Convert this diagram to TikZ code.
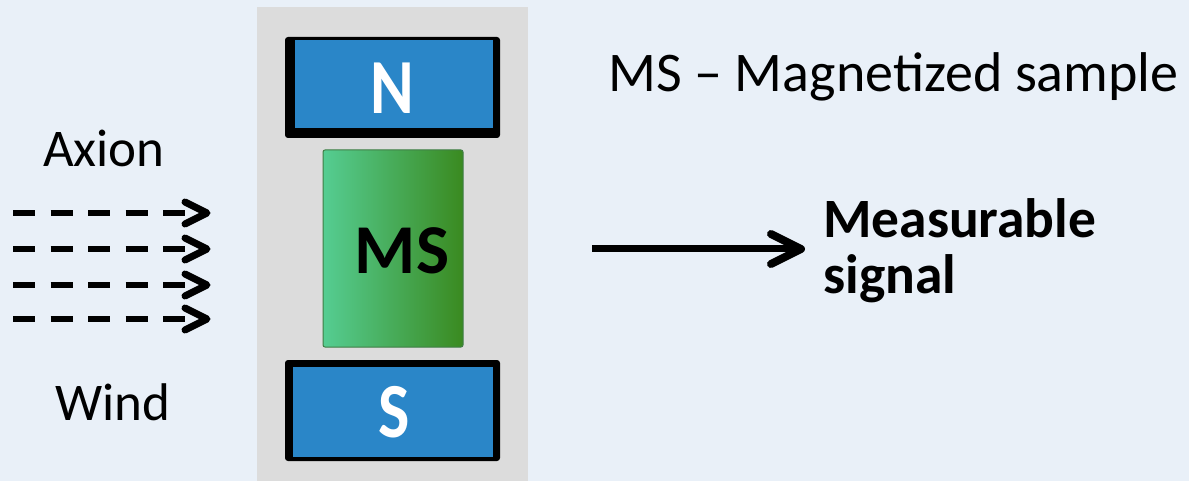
\documentclass[tikz,border=0pt]{standalone}
\usepackage{fontspec}
\setmainfont{Carlito}
\usetikzlibrary{calc}
\definecolor{bgblue}{HTML}{E9F0F8}
\definecolor{panelgray}{HTML}{DCDCDC}
\definecolor{poleblue}{HTML}{2A86C8}
\definecolor{msleft}{HTML}{55CD92}
\definecolor{msright}{HTML}{3A8A20}
\definecolor{msedge}{HTML}{3F7D45}
\tikzset{
  lbl/.style={inner sep=0pt, anchor=base west, font=\fontsize{53}{56}\selectfont},
  boldlbl/.style={lbl, font=\fontsize{55.5}{56}\selectfont\bfseries, align=left},
  poleletter/.style={inner sep=0pt, text=white, font=\fontsize{78}{78}\selectfont\bfseries, xscale=0.85},
  dashline/.style={line width=6pt, dash pattern=on 22pt off 15.5pt},
  chev/.style={line width=7pt, line cap=round, line join=round},
  solidline/.style={line width=7pt}
}
\begin{document}
\begin{tikzpicture}[x=1pt, y=-1pt]
  \useasboundingbox (0,0) rectangle (1189,481);
  % page background and the grey panel behind the magnet
  \fill[bgblue] (0,0) rectangle (1189,481);
  \fill[panelgray] (257,7) rectangle (528,481);

  % north pole
  \fill[black, rounded corners=3pt] (285,37) rectangle (500,138);
  \fill[poleblue] (295,40) rectangle (493,128);
  \node[poleletter] (N) at (392,88) {N};

  % magnetized sample
  \draw[msedge, line width=1pt, left color=msleft, right color=msright, rounded corners=2pt]
    (323,150) rectangle (463,347);
  \node[inner sep=0pt, font=\fontsize{70}{70}\selectfont\bfseries] (MS) at (402,251) {MS};

  % south pole
  \fill[black, rounded corners=3pt] (285,360) rectangle (500,461);
  \fill[poleblue] (293,367) rectangle (493,457);
  \node[poleletter] (S) at (394,412) {S};

  % labels
  \node[lbl] (axion) at (43,167) {Axion};
  \node[lbl] (wind) at (55,420) {Wind};
  \node[lbl, font=\fontsize{56}{56}\selectfont] (legend) at (608,92) {MS – Magnetized sample};
  \node[boldlbl] (signal) at (823,294) {Measurable\\signal};

  % incoming wind: four dashed arrows
  \foreach \i/\y in {1/213, 2/249, 3/285, 4/319} {
    \coordinate (w\i s) at (13,\y);
    \coordinate (w\i e) at (207,\y);
    \draw[dashline] (w\i s) -- ($(w\i e)+(-22,0)$);
    \draw[chev] ($(w\i e)+(-22,-11)$) -- (w\i e) -- ($(w\i e)+(-22,11)$);
  }

  % outgoing signal arrow
  \coordinate (sigs) at (592,249);
  \coordinate (sige) at (801,249);
  \draw[solidline] (sigs) -- ($(sige)+(-4,0)$);
  \draw[chev, line width=8pt] ($(sige)+(-30,-15)$) -- (sige) -- ($(sige)+(-30,15)$);
\end{tikzpicture}
\end{document}
